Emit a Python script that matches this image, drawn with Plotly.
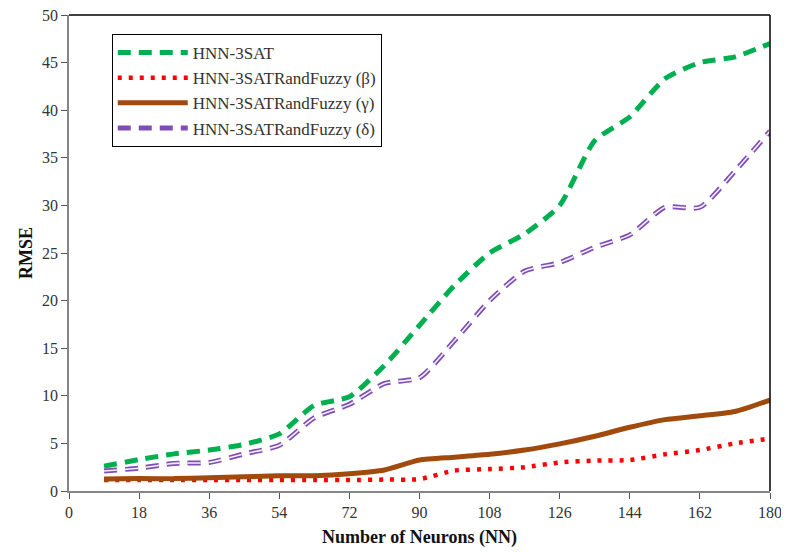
import plotly.graph_objects as go

neurons = [9, 18, 27, 36, 45, 54, 63, 72, 81, 90, 99, 108, 117, 126, 135, 144, 153, 162, 171, 180]

hnn_3sat = [2.6, 3.3, 3.9, 4.3, 4.9, 6.0, 9.0, 9.9, 13.2, 17.4, 21.6, 25.0, 27.0, 30.0, 36.8, 39.3, 43.3, 45.0, 45.6, 47.0]
fuzzy_beta = [1.15, 1.15, 1.15, 1.15, 1.15, 1.15, 1.15, 1.15, 1.2, 1.25, 2.15, 2.3, 2.5, 3.0, 3.2, 3.25, 3.85, 4.3, 5.0, 5.5]
fuzzy_gamma = [1.25, 1.3, 1.3, 1.4, 1.5, 1.6, 1.6, 1.8, 2.2, 3.25, 3.55, 3.85, 4.3, 4.95, 5.75, 6.7, 7.5, 7.9, 8.35, 9.55]
fuzzy_delta = [2.1, 2.4, 2.9, 3.0, 3.9, 4.8, 7.7, 9.1, 11.3, 11.9, 15.8, 20.0, 23.1, 24.0, 25.6, 26.9, 29.8, 29.8, 33.6, 37.8]

x_ticks = [0, 18, 36, 54, 72, 90, 108, 126, 144, 162, 180]
y_ticks = [0, 5, 10, 15, 20, 25, 30, 35, 40, 45, 50]

names = ["HNN-3SAT", "HNN-3SATRandFuzzy (β)", "HNN-3SATRandFuzzy (γ)", "HNN-3SATRandFuzzy (δ)"]

font_family = "Liberation Serif, Times New Roman, serif"

fig = go.Figure()

fig.add_trace(go.Scatter(x=neurons, y=hnn_3sat, mode="lines", name=names[0],
                         line=dict(color="#00B050", width=5, dash="13px,8px", shape="spline", smoothing=0.6)))
fig.add_trace(go.Scatter(x=neurons, y=fuzzy_beta, mode="lines", name=names[1],
                         line=dict(color="#FF0000", width=4.5, dash="4px,7px", shape="spline", smoothing=0.6)))
fig.add_trace(go.Scatter(x=neurons, y=fuzzy_gamma, mode="lines", name=names[2],
                         line=dict(color="#A04A0E", width=5, shape="spline", smoothing=0.6)))
fig.add_trace(go.Scatter(x=neurons, y=fuzzy_delta, mode="lines", name=names[3],
                         line=dict(color="#7E4DB5", width=5, dash="13px,8px", shape="spline", smoothing=0.6)))
fig.add_trace(go.Scatter(x=neurons, y=fuzzy_delta, mode="lines", showlegend=False, hoverinfo="skip",
                         line=dict(color="#F4EEFA", width=1.6, dash="13px,8px", shape="spline", smoothing=0.6)))

fig.update_layout(
    width=781, height=545,
    margin=dict(l=61, r=19, t=7, b=62, autoexpand=False),
    paper_bgcolor="white", plot_bgcolor="white",
    font=dict(family=font_family, size=16, color="#222222"),
    showlegend=True,
    legend=dict(x=0.061, y=0.96, xanchor="left", yanchor="top",
                bgcolor="white", bordercolor="#000000", borderwidth=1,
                font=dict(family=font_family, size=17, color="#333333"),
                tracegroupgap=0, itemwidth=70),
    xaxis=dict(range=[0, 180], tickvals=x_ticks, ticktext=[str(v) for v in x_ticks],
               automargin=False, ticklabeloverflow="allow",
               showgrid=False, zeroline=False, showline=True, linecolor="#868686", linewidth=1.5,
               ticks="outside", ticklen=6, tickcolor="#555555", tickwidth=1,
               tickfont=dict(family=font_family, size=16, color="#333333"),
               title=dict(text="<b>Number of Neurons (NN)</b>", font=dict(family=font_family, size=18, color="#111111"), standoff=10)),
    yaxis=dict(range=[0, 50], tickvals=y_ticks, ticktext=[str(v) for v in y_ticks],
               automargin=False, ticklabeloverflow="allow",
               showgrid=False, zeroline=False, showline=True, linecolor="#868686", linewidth=1.5,
               ticks="outside", ticklen=6, tickcolor="#555555", tickwidth=1,
               tickfont=dict(family=font_family, size=16, color="#333333"),
               title=dict(text="<b>RMSE</b>", font=dict(family=font_family, size=18, color="#111111"), standoff=5)),
    shapes=[
        dict(type="line", xref="paper", yref="paper", x0=0, x1=1, y0=1, y1=1, line=dict(color="#000000", width=1.5)),
        dict(type="line", xref="paper", yref="paper", x0=1, x1=1, y0=0, y1=1, line=dict(color="#000000", width=1.5)),
    ],
)

fig.write_html("out.html")
